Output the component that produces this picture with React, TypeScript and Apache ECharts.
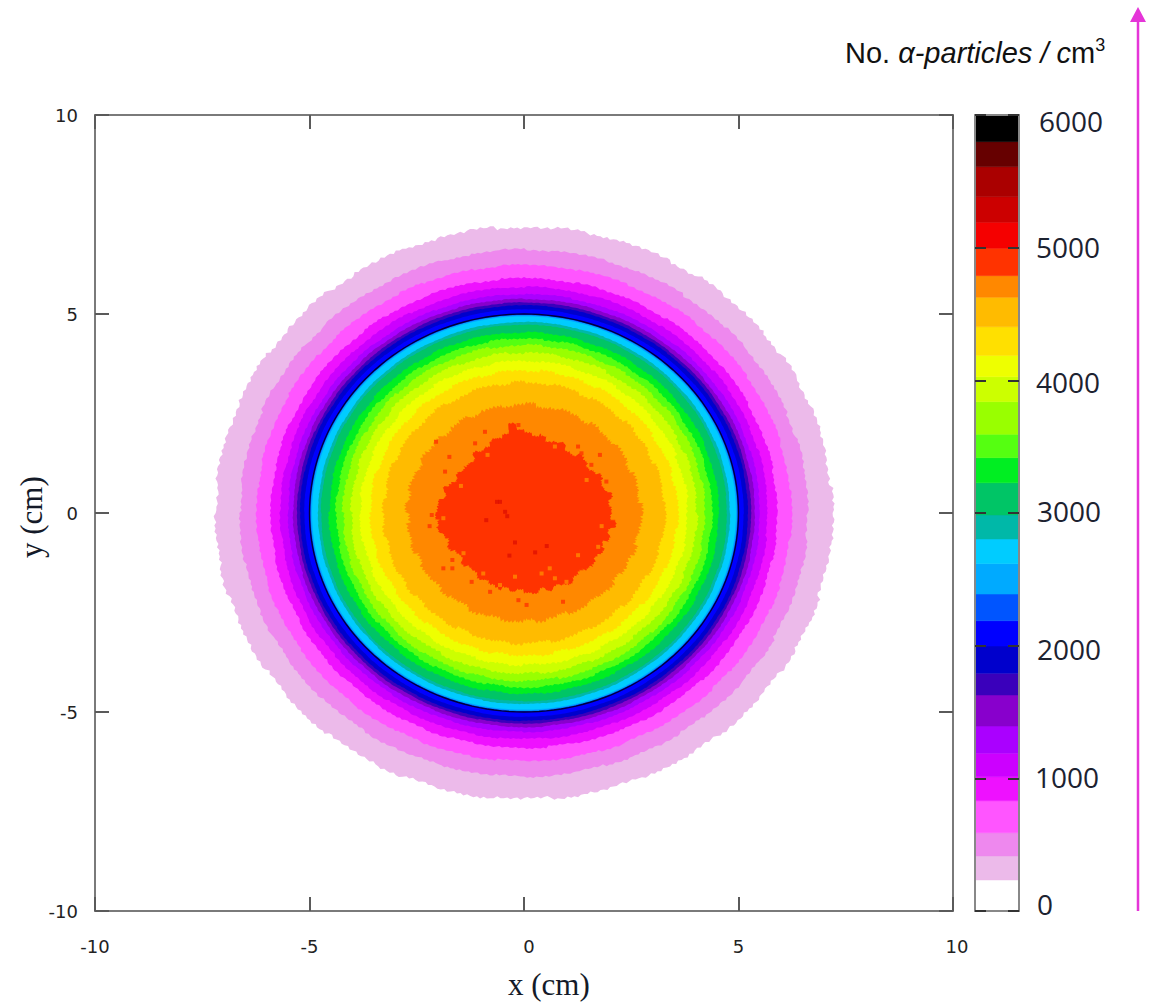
import React, { useEffect, useRef } from "react";
import * as echarts from "echarts";

// Colour-bar: upper edge of each band and its colour (ascending, first is white)
const bandTops = [234, 415, 590, 831, 1012, 1189, 1394, 1628, 1792, 1997, 2188, 2389, 2618, 2804, 2985, 3228, 3417, 3593, 3839, 4027, 4188, 4404, 4626, 4789, 4995, 5191, 5384, 5610, 5799, 6000];
const bandColors = ["#ffffff", "#ecbaea", "#ee88ee", "#ff55ff", "#ee11ff", "#cc00ff", "#aa00ff", "#8800cc", "#3a00bb", "#0000cc", "#0000ff", "#0055ff", "#00aaff", "#00ccff", "#00b8a8", "#00c566", "#00ee22", "#55ff11", "#99ff00", "#ccff00", "#eeff00", "#ffe000", "#ffbb00", "#ff8800", "#ff3300", "#f50000", "#cc0000", "#aa0000", "#660000", "#000000"];
const barTicks = [0, 1000, 2000, 3000, 4000, 5000, 6000];

// Contour outer radius (cm) for colour indices 1..23 of bandColors
const contourRadii = [7.19, 6.62, 6.23, 5.9, 5.68, 5.5, 5.38, 5.29, 5.22, 5.12, 4.99, 4.97, 4.94, 4.8, 4.73, 4.54, 4.38, 4.22, 4.03, 3.82, 3.58, 3.28, 2.72];
// Irregular boundary of the central ff3300 region, every 5 degrees, counter-clockwise from +x
const coreRadii = [2.05, 2.0, 2.08, 1.98, 1.96, 2.02, 1.92, 1.88, 1.96, 1.95, 1.84, 1.86, 1.98, 1.92, 1.88, 2.0, 1.93, 2.02, 2.12, 2.26, 2.04, 1.96, 1.98, 1.88, 1.84, 1.9, 1.78, 1.76, 1.8, 1.84, 1.78, 1.86, 1.96, 1.9, 2.0, 2.02, 2.08, 2.0, 2.05, 1.96, 1.9, 1.95, 1.86, 1.84, 1.92, 1.85, 1.88, 1.94, 1.9, 1.96, 2.0, 1.9, 1.98, 1.94, 2.0, 2.02, 1.95, 2.04, 1.96, 2.02, 2.06, 2.0, 1.94, 2.02, 2.08, 2.0, 2.06, 1.98, 2.1, 2.02, 2.14, 2.04];
// Edge jaggedness read as typical pixel steps along a contour
const edgeSteps = [0.4, -0.7, 0.9, 0.2, -1, 0.6, -0.3, 0.8, -0.9, 0.1, 0.7, -0.5, 1, -0.8, 0.3, -0.2, 0.9, -1, 0.5, 0.2, -0.6, 0.8, -0.4, -0.9, 1, 0.1, -0.7, 0.6, 0.3, -0.8, 0.9, -0.2, -1, 0.7, 0.4, -0.6, 0.2, 0.8, -0.9, 0.5, -0.3, 1, -0.7, 0.1, 0.6, -1, 0.4, 0.8, -0.5, -0.2, 0.9, -0.8, 0.3, 0.7, -0.4, -0.9, 1, 0.2, -0.6, 0.5];
const contourRough = [0.05, 0.035, 0.03, 0.03, 0.025, 0.02, 0.015, 0.01, 0.01, 0.005, 0, 0, 0, 0.01, 0.01, 0.025, 0.03, 0.035, 0.04, 0.04, 0.045, 0.055, 0.07];

// Isolated cells
const hotCells = [[-0.63, 0.28], [-0.56, 0.28], [-0.44, 0.03], [-0.39, -0.08], [-0.88, -0.18], [-0.21, -0.74], [0.53, -0.83], [0.26, -0.99], [-0.34, -1.07]];
const coreSpecks = [[-0.13, 2.21], [-0.91, 2.04], [-2.05, 1.79], [-1.84, 1.04], [-2.15, -0.05], [-2.2, -0.33], [-1.88, -1.39], [-1.67, -1.39], [-1.67, -1.18], [-1.22, -1.73], [-0.79, -1.98], [0.06, -2.31], [-0.13, -2.19], [0.91, -2.23], [1.34, -1.39], [2.08, -0.22], [1.92, 0.79], [1.77, 1.46], [1.26, 1.67], [1.34, 1.5], [1.57, 1.21], [-1.14, 1.75], [-1.74, 1.41]];
const orangeSpecks = [[-1.47, 0.68], [-1.88, -0.13], [-1.41, -1.01], [-0.21, -1.6], [0.6, -1.39], [0.41, -1.52], [0.72, -1.64], [1.26, -1.06], [1.73, -0.85], [1.81, -0.33], [1.46, 0.83], [0.72, 1.67], [-0.4, 2.04], [-0.85, 1.46], [-1.22, 1.33], [-0.95, -1.52], [-0.56, -1.81], [0.99, -1.73]];
const coilRadius = [5.0];

const tickFont = "DejaVu Sans";
const tickSize = 18;
const barLabelNudge: Record<number, [number, number]> = {
  0: [2, -7], 1000: [0, -1], 2000: [2, 3], 3000: [2, -2], 4000: [1, 2], 5000: [1, -1], 6000: [4, 6],
};

function contourItem(params: any, api: any) {
  const idx = api.value(0) as number;
  const isCore = idx === 24;
  const radius = isCore ? 0 : contourRadii[idx - 1];
  const rough = isCore ? 0.035 : contourRough[idx - 1];
  const n = 576;
  const len = edgeSteps.length;
  const points: number[][] = [];
  for (let i = 0; i < n; i++) {
    const a = (i / n) * Math.PI * 2;
    const base = isCore ? coreRadii[Math.floor(i / 8) % coreRadii.length] : radius;
    const fine = edgeSteps[(i + idx * 13) % len];
    const broad = edgeSteps[(Math.floor(i / 9) + idx * 7) % len];
    const r = base + rough * (0.6 * fine + 0.7 * broad);
    points.push(api.coord([r * Math.cos(a), r * Math.sin(a)]));
  }
  return { type: "polygon", shape: { points }, style: { fill: bandColors[idx] } };
}

function ringItem(params: any, api: any) {
  const r = api.value(0) as number;
  const points: number[][] = [];
  for (let i = 0; i < 180; i++) {
    const a = (i / 180) * Math.PI * 2;
    points.push(api.coord([r * Math.cos(a), r * Math.sin(a)]));
  }
  return { type: "polygon", shape: { points }, style: { fill: "none", stroke: "#00003c", lineWidth: 1.4 } };
}

function barItem(params: any, api: any) {
  const lo = api.value(0), hi = api.value(1);
  const a = api.coord([0, lo]), b = api.coord([1, hi]);
  const fill = bandColors[api.value(2)];
  return { type: "rect", shape: { x: a[0], y: b[1], width: b[0] - a[0], height: a[1] - b[1] }, style: { fill, stroke: fill, lineWidth: 0.5 } };
}

export default function App() {
  const ref = useRef<HTMLDivElement>(null);
  useEffect(() => {
    document.body.style.margin = "0";
    const chart = echarts.init(ref.current!, undefined, { renderer: "svg" });
    const line = { show: true, onZero: false, lineStyle: { color: "#7a7a7a", width: 2 } };
    const tick = (length: number) => ({ show: true, inside: true, length, lineStyle: { color: "#5a5a5a", width: 2 } });
    const xLabel = (v: number) => (v === 0 ? "{z|0}" : v === 10 ? "{t|10}" : String(v));
    const rich: any = {};
    barTicks.forEach((v) => {
      const [dx, dy] = barLabelNudge[v];
      rich["l" + v] = {
        fontFamily: "Open Sans", fontSize: 28, color: "#1c2230",
        padding: [dy > 0 ? dy * 2 : 0, 0, dy < 0 ? -dy * 2 : 0, dx],
      };
    });
    const contourRows = contourRadii.map((_, i) => [i + 1]).concat([[24]]);
    const barRows = bandTops.map((t, i) => [i === 0 ? 0 : bandTops[i - 1], t, i]);
    chart.setOption({
      animation: false,
      grid: [
        { left: 95, top: 115, width: 858, height: 796 },
        { left: 975, top: 115, width: 44, height: 796 },
      ],
      xAxis: [
        {
          type: "value", gridIndex: 0, min: -10, max: 10, interval: 5, position: "bottom", z: 5,
          axisLine: line, axisTick: tick(14), splitLine: { show: false },
          axisLabel: {
            margin: 26, fontFamily: tickFont, fontSize: tickSize, color: "#222", formatter: xLabel,
            rich: { z: { fontFamily: tickFont, fontSize: tickSize, color: "#222", padding: [0, 0, 0, 10] }, t: { fontFamily: tickFont, fontSize: tickSize, color: "#222", padding: [0, 0, 0, 8] } },
          },
        },
        { type: "value", gridIndex: 0, min: -10, max: 10, interval: 5, position: "top", z: 5, axisLine: line, axisTick: tick(14), axisLabel: { show: false }, splitLine: { show: false } },
        { type: "value", gridIndex: 1, min: 0, max: 1, position: "bottom", z: 5, axisLine: { ...line, lineStyle: { color: "#888", width: 2 } }, axisTick: { show: false }, axisLabel: { show: false }, splitLine: { show: false } },
        { type: "value", gridIndex: 1, min: 0, max: 1, position: "top", z: 5, axisLine: { ...line, lineStyle: { color: "#888", width: 2 } }, axisTick: { show: false }, axisLabel: { show: false }, splitLine: { show: false } },
      ],
      yAxis: [
        {
          type: "value", gridIndex: 0, min: -10, max: 10, interval: 5, position: "left", z: 5,
          axisLine: line, axisTick: tick(14), splitLine: { show: false },
          axisLabel: { margin: 17, fontFamily: tickFont, fontSize: tickSize, color: "#222", formatter: (v: number) => String(v) },
        },
        { type: "value", gridIndex: 0, min: -10, max: 10, interval: 5, position: "right", z: 5, axisLine: line, axisTick: tick(14), axisLabel: { show: false }, splitLine: { show: false } },
        {
          type: "value", gridIndex: 1, min: 0, max: 6000, interval: 1000, position: "right", z: 5,
          axisLine: { ...line, lineStyle: { color: "#888", width: 2 } },
          axisTick: { show: true, inside: true, length: 11, lineStyle: { color: "#333", width: 2 } },
          axisLabel: { margin: 16, align: "left", formatter: (v: number) => `{l${v}|${v}}`, rich },
          splitLine: { show: false },
        },
        {
          type: "value", gridIndex: 1, min: 0, max: 6000, interval: 1000, position: "left", z: 5,
          axisLine: { ...line, lineStyle: { color: "#888", width: 2 } },
          axisTick: { show: true, inside: true, length: 11, lineStyle: { color: "#333", width: 2 } },
          axisLabel: { show: false }, splitLine: { show: false },
        },
      ],
      series: [
        { type: "custom", xAxisIndex: 0, yAxisIndex: 0, renderItem: contourItem, data: contourRows, clip: true, z: 2 },
        { type: "custom", xAxisIndex: 0, yAxisIndex: 0, renderItem: ringItem, data: coilRadius.map((r) => [r]), z: 3 },
        { type: "scatter", xAxisIndex: 0, yAxisIndex: 0, data: coreSpecks, symbol: "rect", symbolSize: 4, itemStyle: { color: bandColors[24] }, z: 3 },
        { type: "scatter", xAxisIndex: 0, yAxisIndex: 0, data: orangeSpecks, symbol: "rect", symbolSize: 4, itemStyle: { color: bandColors[23] }, z: 3 },
        { type: "scatter", xAxisIndex: 0, yAxisIndex: 0, data: hotCells, symbol: "rect", symbolSize: 4, itemStyle: { color: "#e01000" }, z: 3 },
        { type: "custom", xAxisIndex: 2, yAxisIndex: 2, renderItem: barItem, data: barRows, z: 2 },
      ],
      graphic: [
        { type: "text", left: 508, top: 969, style: { text: "x (cm)", font: "31px 'Liberation Serif'", fill: "#141a28" } },
        { type: "text", x: 16, y: 558, rotation: Math.PI / 2, style: { text: "y (cm)", font: "31px 'Liberation Serif'", fill: "#141a28" } },
        {
          type: "text", left: 845, top: 36,
          style: {
            text: "{a|No. }{b|\u03b1-particles / c}{a|m}{s|3}",
            rich: {
              a: { fontFamily: "Liberation Sans", fontSize: 29, fill: "#111", lineHeight: 34 },
              b: { fontFamily: "Liberation Sans", fontStyle: "italic", fontSize: 29, fill: "#111", lineHeight: 34 },
              s: { fontFamily: "Liberation Sans", fontSize: 18, fill: "#111", lineHeight: 34, verticalAlign: "top" },
            },
          },
        },
        { type: "line", shape: { x1: 1138, y1: 911, x2: 1138, y2: 20 }, style: { stroke: "#e535d8", lineWidth: 2.5 } },
        { type: "polygon", shape: { points: [[1138, 7], [1146, 22], [1130, 22]] }, style: { fill: "#e535d8" } },
      ],
    });
    return () => chart.dispose();
  }, []);
  return <div ref={ref} style={{ position: "absolute", left: 0, top: 0, width: 1157, height: 1004, background: "#fff" }} />;
}
